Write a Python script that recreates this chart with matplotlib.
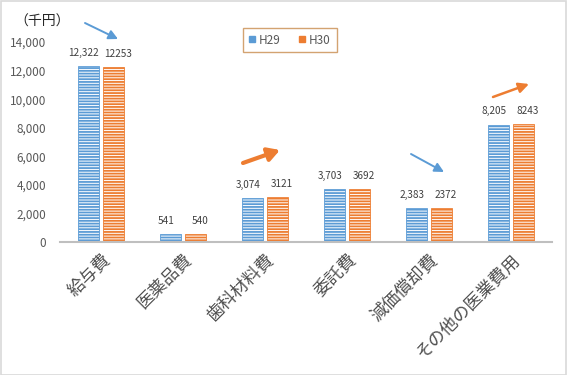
import matplotlib
matplotlib.use("Agg")
import matplotlib.pyplot as plt
import numpy as np
from matplotlib.patches import Patch, Rectangle, FancyArrowPatch

plt.rcParams['font.family'] = ['Noto Sans CJK JP', 'DejaVu Sans']
plt.rcParams['hatch.linewidth'] = 1.3

categories = ["給与費", "医薬品費", "歯科材料費", "委託費", "減価償却費", "その他の医業費用"]
h29 = [12322, 541, 3074, 3703, 2383, 8205]
h30 = [12253, 540, 3121, 3692, 2372, 8243]
h29_labels = ["12,322", "541", "3,074", "3,703", "2,383", "8,205"]
h30_labels = ["12253", "540", "3121", "3692", "2372", "8243"]
series_names = ["H29", "H30"]
yticks = [0, 2000, 4000, 6000, 8000, 10000, 12000, 14000]
ytick_labels = ["0", "2,000", "4,000", "6,000", "8,000", "10,000", "12,000", "14,000"]

W, H = 570, 375
fig = plt.figure(figsize=(W / 100, H / 100), dpi=100)
ax = fig.add_axes([60 / W, (H - 242) / H, 492 / W, 200 / H])

blue = "#5B9BD5"
orange = "#ED7D31"
x = np.arange(len(categories))
bw = 0.256
off = 0.158
b1 = ax.bar(x - off, h29, bw, facecolor="white", edgecolor=blue, hatch="------", linewidth=0.6)
b2 = ax.bar(x + off, h30, bw, facecolor="white", edgecolor=orange, hatch="------", linewidth=0.6)

for bars, labels, dx in ((b1, h29_labels, -3), (b2, h30_labels, 3)):
    for rect, lab in zip(bars, labels):
        ax.annotate(lab, (rect.get_x() + rect.get_width() / 2, rect.get_height()),
                    xytext=(dx, 6), textcoords="offset points", ha="center", va="bottom",
                    fontsize=7.2, color="#404040")

ax.set_xlim(-0.5, len(categories) - 0.5)
ax.set_ylim(0, 14000)
ax.set_yticks(yticks)
ax.set_yticklabels(ytick_labels, fontsize=8.5, color="#595959")
ax.tick_params(axis="y", length=0, pad=10)
ax.set_xticks(x)
ax.set_xticklabels(categories, rotation=45, ha="right", va="top", rotation_mode="anchor",
                   fontsize=12.5, color="#505050")
ax.tick_params(axis="x", length=0, pad=6)
for s in ("top", "right", "left"):
    ax.spines[s].set_visible(False)
ax.spines["bottom"].set_color("#bfbfbf")
ax.spines["bottom"].set_linewidth(1.5)

fig.text(14 / W, 1 - 22 / H, "（千円）", fontsize=10, color="#262626", va="center", ha="left")

handles = [Patch(facecolor=blue, edgecolor=blue), Patch(facecolor=orange, edgecolor=orange)]
leg = fig.legend(handles, series_names, loc="center", bbox_to_anchor=(290 / W, 1 - 40 / H),
                 ncol=2, fontsize=8.5, frameon=True, fancybox=False,
                 handlelength=0.5, handleheight=0.4, handletextpad=0.3, columnspacing=1.6,
                 borderpad=0.5, labelcolor="#595959")
leg.get_frame().set_edgecolor("#c98c4e")
leg.get_frame().set_linewidth(1.0)


def arrow(x0, y0, x1, y1, color, lw, hl, hw):
    fig.add_artist(FancyArrowPatch(
        (x0 / W, 1 - y0 / H), (x1 / W, 1 - y1 / H), transform=fig.transFigure,
        arrowstyle=f"-|>,head_length={hl},head_width={hw}", color=color,
        linewidth=lw, mutation_scale=10, shrinkA=0, shrinkB=0))


arrow(85, 23, 118, 39, blue, 1.4, 0.55, 0.28)
arrow(243, 163, 280, 150, orange, 3.0, 0.7, 0.4)
arrow(411, 154, 444, 172, blue, 1.4, 0.55, 0.28)
arrow(493, 97, 529, 84, orange, 1.8, 0.6, 0.3)

fig.add_artist(Rectangle((0.5 / W, 0.5 / H), 1 - 5 / W, 1 - 1.5 / H, transform=fig.transFigure,
                         fill=False, edgecolor="#d9d9d9", linewidth=1.2))

fig.savefig("out.png", dpi=100)
